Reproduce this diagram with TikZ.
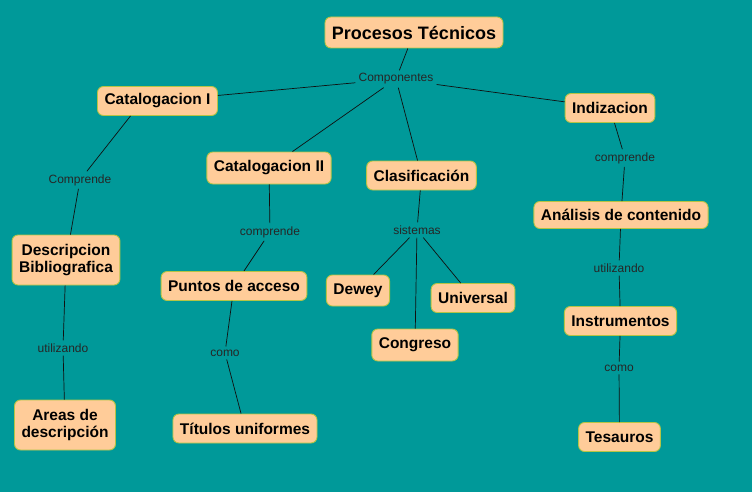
\documentclass[tikz,border=0pt]{standalone}
\usepackage{fontspec}
\setmainfont{Liberation Sans}
\usepackage{xcolor}
\definecolor{Teal}{HTML}{009999}
\definecolor{Peach}{HTML}{FFCC99}
\definecolor{Rim}{HTML}{B5C444}
\definecolor{Ink}{HTML}{000000}
\definecolor{Wire}{HTML}{101010}
\tikzset{
  concept/.style={draw=Rim,fill=Peach,rounded corners=6pt,minimum height=29pt,align=center,font=\fontsize{15.5}{17.5}\selectfont\bfseries,text=Ink,inner xsep=7pt,line width=0.9pt},
  topconcept/.style={concept,font=\fontsize{18}{20}\selectfont\bfseries,minimum height=31pt},
  linkword/.style={font=\fontsize{12}{14}\selectfont,text=Ink!85,inner sep=3pt},
  wire/.style={draw=Wire,line width=0.7pt}
}
\begin{document}
\begin{tikzpicture}[x=1pt,y=-1pt]
  \fill[Teal] (0,0) rectangle (752,492);
  \useasboundingbox (0,0) rectangle (752,492);

  % concepts
  \node[topconcept] (proc) at (414,32.5) {Procesos Técnicos};
  \node[concept] (cat1) at (157.5,101) {Catalogacion I};
  \node[concept] (indiz) at (610,108) {Indizacion};
  \node[concept,minimum height=32pt] (cat2) at (269,168) {Catalogacion II};
  \node[concept] (clasif) at (421.5,175.5) {Clasificación};
  \node[concept,minimum height=27pt] (analisis) at (621,215) {Análisis de contenido};
  \node[concept,minimum height=50pt] (descr) at (66,260) {Descripcion\\Bibliografica};
  \node[concept] (puntos) at (234,286) {Puntos de acceso};
  \node[concept,minimum height=31pt] (dewey) at (358,290.5) {Dewey};
  \node[concept] (univ) at (473,298) {Universal};
  \node[concept,minimum height=32pt] (congreso) at (415,345) {Congreso};
  \node[concept] (instr) at (620.5,321) {Instrumentos};
  \node[concept,minimum height=50pt] (areas) at (65,425) {Areas de\\descripción};
  \node[concept] (titulos) at (245,428.5) {Títulos uniformes};
  \node[concept] (tesauros) at (619.5,437) {Tesauros};

  % linking words
  \node[linkword] (compo) at (396,79) {Componentes};
  \node[linkword] (compr1) at (80,180) {Comprende};
  \node[linkword] (compr2) at (270,232) {comprende};
  \node[linkword] (compr3) at (625,158) {comprende};
  \node[linkword] (sist) at (417,230) {sistemas};
  \node[linkword] (util1) at (63,348) {utilizando};
  \node[linkword] (util2) at (619,268) {utilizando};
  \node[linkword] (como1) at (225,353) {como};
  \node[linkword] (como2) at (619,368) {como};

  % connections
  \draw[wire] (proc) -- (compo);
  \draw[wire] (compo) -- (cat1);
  \draw[wire] (compo) -- (indiz);
  \draw[wire] (compo) -- (cat2);
  \draw[wire] (compo) -- (clasif);
  \draw[wire] ([xshift=-27pt]cat1.south) -- (compr1);
  \draw[wire] (compr1) -- (descr);
  \draw[wire] (descr) -- (util1);
  \draw[wire] (util1) -- (areas);
  \draw[wire] (cat2) -- (compr2);
  \draw[wire] (compr2) -- (puntos);
  \draw[wire] (puntos) -- (como1);
  \draw[wire] (como1) -- (titulos);
  \draw[wire] (clasif) -- (sist);
  \draw[wire] (sist) -- (dewey);
  \draw[wire] (sist) -- (congreso);
  \draw[wire] (sist) -- (univ);
  \draw[wire] (indiz) -- (compr3);
  \draw[wire] (compr3) -- (analisis);
  \draw[wire] (analisis) -- (util2);
  \draw[wire] (util2) -- (instr);
  \draw[wire] (instr) -- (como2);
  \draw[wire] (como2) -- (tesauros);
\end{tikzpicture}
\end{document}
